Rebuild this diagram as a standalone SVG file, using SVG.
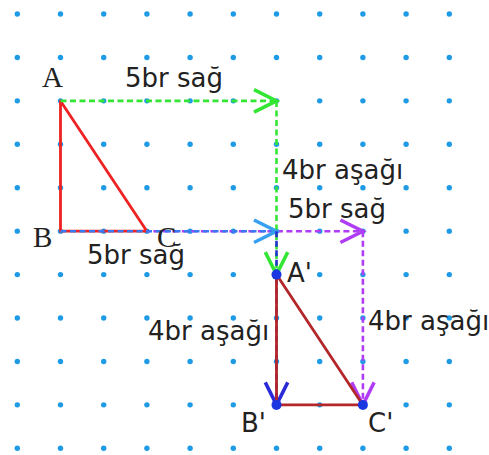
<svg xmlns="http://www.w3.org/2000/svg" xmlns:xlink="http://www.w3.org/1999/xlink" width="489" height="455" viewBox="0 0 489 455">
<style>
.dot{fill:#1f9be6}
.lbl{font-family:"DejaVu Sans",sans-serif;font-size:26px;fill:#222}
.pt{font-family:"Liberation Serif",serif;font-size:29px;fill:#222}
.c{fill:none;stroke-width:2.6;stroke-dasharray:6 3.5}
.tri1{fill:none;stroke:#ee2222;stroke-width:2.8;stroke-linejoin:round}
.tri2{fill:none;stroke:#b3262a;stroke-width:2.8;stroke-linejoin:round}
.vx{fill:#1a36e0}
</style>
<defs>
<marker id="mg" markerUnits="userSpaceOnUse" markerWidth="30" markerHeight="30" refX="0" refY="0" viewBox="-20 -12 22 24" orient="auto" overflow="visible"><path d="M-18 -9 L0 0 L-18 9" fill="none" stroke="#33e633" stroke-width="2.8"/></marker>
<marker id="mlb" markerUnits="userSpaceOnUse" markerWidth="30" markerHeight="30" refX="0" refY="0" viewBox="-20 -12 22 24" orient="auto" overflow="visible"><path d="M-18 -9 L0 0 L-18 9" fill="none" stroke="#38a0f0" stroke-width="2.8"/></marker>
<marker id="mdb" markerUnits="userSpaceOnUse" markerWidth="30" markerHeight="30" refX="0" refY="0" viewBox="-20 -12 22 24" orient="auto" overflow="visible"><path d="M-18 -9 L0 0 L-18 9" fill="none" stroke="#2a2ad8" stroke-width="2.8"/></marker>
<marker id="mp" markerUnits="userSpaceOnUse" markerWidth="30" markerHeight="30" refX="0" refY="0" viewBox="-20 -12 22 24" orient="auto" overflow="visible"><path d="M-18 -9 L0 0 L-18 9" fill="none" stroke="#b03cf5" stroke-width="2.8"/></marker>
<g id="row">
<circle class="dot" cx="17.3" cy="14" r="2.7"/><circle class="dot" cx="60.5" cy="14" r="2.7"/><circle class="dot" cx="103.7" cy="14" r="2.7"/><circle class="dot" cx="146.9" cy="14" r="2.7"/><circle class="dot" cx="190.1" cy="14" r="2.7"/><circle class="dot" cx="233.3" cy="14" r="2.7"/><circle class="dot" cx="276.5" cy="14" r="2.7"/><circle class="dot" cx="319.7" cy="14" r="2.7"/><circle class="dot" cx="362.9" cy="14" r="2.7"/><circle class="dot" cx="406.1" cy="14" r="2.7"/><circle class="dot" cx="449.3" cy="14" r="2.7"/>
</g>
</defs>
<rect width="489" height="455" fill="#fff"/>
<g id="grid">
<use xlink:href="#row"/>
<use xlink:href="#row" y="43.43"/>
<use xlink:href="#row" y="86.86"/>
<use xlink:href="#row" y="130.29"/>
<use xlink:href="#row" y="173.72"/>
<use xlink:href="#row" y="217.15"/>
<use xlink:href="#row" y="260.58"/>
<use xlink:href="#row" y="304.01"/>
<use xlink:href="#row" y="347.44"/>
<use xlink:href="#row" y="390.87"/>
<use xlink:href="#row" y="434.3"/>
</g>
<g id="triangle-ABC">
<polygon class="tri1" points="60.5,100.9 60.5,231.2 146.9,231.2"/>
</g>
<g id="connectors">
<line class="c" stroke="#33e633" x1="60.5" y1="100.9" x2="276.5" y2="100.9" marker-end="url(#mg)"/>
<line class="c" stroke="#33e633" x1="276.5" y1="100.9" x2="276.5" y2="274.6" marker-end="url(#mg)"/>
<line class="c" stroke="#b03cf5" x1="146.9" y1="231.2" x2="362.9" y2="231.2" marker-end="url(#mp)" stroke-dashoffset="3"/>
<line class="c" stroke="#b03cf5" x1="362.9" y1="231.2" x2="362.9" y2="404.9" marker-end="url(#mp)"/>
<line class="c" stroke="#3b78f0" x1="60.5" y1="231.2" x2="276.5" y2="231.2" marker-end="url(#mlb)"/>
<line class="c" stroke="#2233cc" x1="276.5" y1="231.2" x2="276.5" y2="404.9" marker-end="url(#mdb)"/>
</g>
<g id="triangle-A1B1C1">
<polygon class="tri2" points="276.5,274.6 276.5,404.9 362.9,404.9"/>
<circle class="vx" cx="276.5" cy="274.6" r="5"/>
<circle class="vx" cx="276.5" cy="404.9" r="5"/>
<circle class="vx" cx="362.9" cy="404.9" r="5"/>
</g>
<g id="labels">
<text class="pt" x="42" y="87">A</text>
<text class="pt" x="33" y="247">B</text>
<text class="pt" x="157" y="247">C</text>
<text class="lbl" x="125" y="87">5br sağ</text>
<text class="lbl" x="282" y="179">4br aşağı</text>
<text class="lbl" x="288" y="218">5br sağ</text>
<text class="lbl" x="87" y="264">5br sağ</text>
<text class="lbl" x="287" y="282">A'</text>
<text class="lbl" x="148" y="340">4br aşağı</text>
<text class="lbl" x="368" y="330">4br aşağı</text>
<text class="lbl" x="241" y="432">B'</text>
<text class="lbl" x="368" y="432">C'</text>
</g>
</svg>
